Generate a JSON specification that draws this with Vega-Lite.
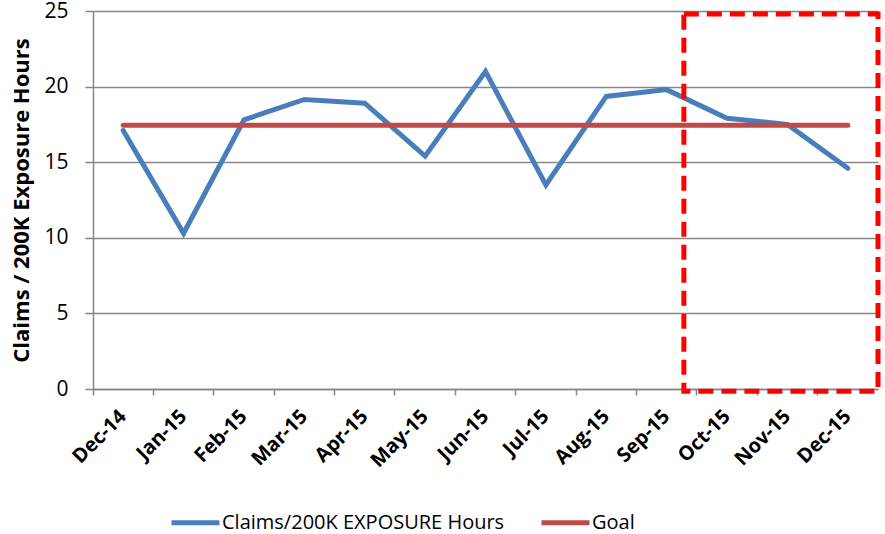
{
  "$schema": "https://vega.github.io/schema/vega-lite/v6.json",
  "autosize": "none",
  "width": 785,
  "height": 378,
  "padding": {"left": 93, "top": 11, "right": 7, "bottom": 145},
  "background": "white",
  "config": {
    "view": {"stroke": null},
    "font": "Open Sans",
    "axis": {"labelFont": "Open Sans", "titleFont": "Open Sans"},
    "legend": {"labelFont": "Open Sans"}
  },
  "datasets": {
    "series": [
      {"month": "Dec-14", "series": "Claims/200K EXPOSURE Hours", "value": 17.1},
      {"month": "Jan-15", "series": "Claims/200K EXPOSURE Hours", "value": 10.3},
      {"month": "Feb-15", "series": "Claims/200K EXPOSURE Hours", "value": 17.8},
      {"month": "Mar-15", "series": "Claims/200K EXPOSURE Hours", "value": 19.15},
      {"month": "Apr-15", "series": "Claims/200K EXPOSURE Hours", "value": 18.9},
      {"month": "May-15", "series": "Claims/200K EXPOSURE Hours", "value": 15.4},
      {"month": "Jun-15", "series": "Claims/200K EXPOSURE Hours", "value": 21.0},
      {"month": "Jul-15", "series": "Claims/200K EXPOSURE Hours", "value": 13.5},
      {"month": "Aug-15", "series": "Claims/200K EXPOSURE Hours", "value": 19.35},
      {"month": "Sep-15", "series": "Claims/200K EXPOSURE Hours", "value": 19.8},
      {"month": "Oct-15", "series": "Claims/200K EXPOSURE Hours", "value": 17.9},
      {"month": "Nov-15", "series": "Claims/200K EXPOSURE Hours", "value": 17.5},
      {"month": "Dec-15", "series": "Claims/200K EXPOSURE Hours", "value": 14.6},
      {"month": "Dec-14", "series": "Goal", "value": 17.44},
      {"month": "Jan-15", "series": "Goal", "value": 17.44},
      {"month": "Feb-15", "series": "Goal", "value": 17.44},
      {"month": "Mar-15", "series": "Goal", "value": 17.44},
      {"month": "Apr-15", "series": "Goal", "value": 17.44},
      {"month": "May-15", "series": "Goal", "value": 17.44},
      {"month": "Jun-15", "series": "Goal", "value": 17.44},
      {"month": "Jul-15", "series": "Goal", "value": 17.44},
      {"month": "Aug-15", "series": "Goal", "value": 17.44},
      {"month": "Sep-15", "series": "Goal", "value": 17.44},
      {"month": "Oct-15", "series": "Goal", "value": 17.44},
      {"month": "Nov-15", "series": "Goal", "value": 17.44},
      {"month": "Dec-15", "series": "Goal", "value": 17.44}
    ],
    "box": [
      {"start": "Sep-15", "end": "Dec-15", "top": 24.8, "bottom": -0.15}
    ]
  },
  "layer": [
    {
      "data": {"name": "series"},
      "mark": {"type": "line", "strokeWidth": 5, "strokeCap": "round", "strokeJoin": "miter"},
      "encoding": {
        "x": {
          "field": "month",
          "type": "ordinal",
          "sort": null,
          "scale": {
            "type": "band",
            "paddingInner": 0,
            "paddingOuter": 0,
            "domain": ["Dec-14", "Jan-15", "Feb-15", "Mar-15", "Apr-15", "May-15", "Jun-15", "Jul-15", "Aug-15", "Sep-15", "Oct-15", "Nov-15", "Dec-15"]
          },
          "axis": {
            "title": null,
            "bandPosition": 0,
            "labelAngle": -45,
            "labelAlign": "right",
            "labelBaseline": "middle",
            "labelFontWeight": "bold",
            "labelFontSize": 20,
            "labelColor": "#000000",
            "labelPadding": 18,
            "labelOffset": 0,
            "tickSize": 6,
            "tickColor": "#868686",
            "tickWidth": 1.5,
            "domainColor": "#868686",
            "domainWidth": 1.5,
            "grid": false
          }
        },
        "y": {
          "field": "value",
          "type": "quantitative",
          "scale": {"domain": [0, 25], "nice": false, "zero": true},
          "axis": {
            "title": "Claims / 200K Exposure Hours",
            "titleFontSize": 22,
            "titleFontWeight": "bold",
            "titleColor": "#000000",
            "titlePadding": 10,
            "values": [0, 5, 10, 15, 20, 25],
            "labelFontSize": 21,
            "labelColor": "#000000",
            "labelPadding": 17,
            "tickSize": 8,
            "tickColor": "#868686",
            "tickWidth": 1.5,
            "domainColor": "#868686",
            "domainWidth": 1.5,
            "grid": true,
            "gridColor": "#868686",
            "gridWidth": 1.5
          }
        },
        "color": {
          "field": "series",
          "type": "nominal",
          "scale": {
            "domain": ["Claims/200K EXPOSURE Hours", "Goal"],
            "range": ["#4a7ebb", "#be4b48"]
          },
          "legend": {
            "title": null,
            "orient": "none",
            "legendX": 76,
            "legendY": 485,
            "direction": "horizontal",
            "columns": 2,
            "columnPadding": 26,
            "symbolType": "stroke",
            "symbolSize": 2300,
            "symbolStrokeWidth": 5,
            "labelFontSize": 20,
            "labelColor": "#000000",
            "labelOffset": 0,
            "labelLimit": 400
          }
        }
      }
    },
    {
      "data": {"name": "box"},
      "mark": {
        "type": "rect",
        "fill": null,
        "fillOpacity": 0,
        "stroke": "#ff0000",
        "strokeWidth": 5,
        "strokeDash": [15, 8],
        "clip": false
      },
      "encoding": {
        "x": {"field": "start", "type": "ordinal", "bandPosition": 0.785},
        "x2": {"field": "end", "bandPosition": 1},
        "y": {"field": "top", "type": "quantitative"},
        "y2": {"field": "bottom"}
      }
    }
  ]
}
